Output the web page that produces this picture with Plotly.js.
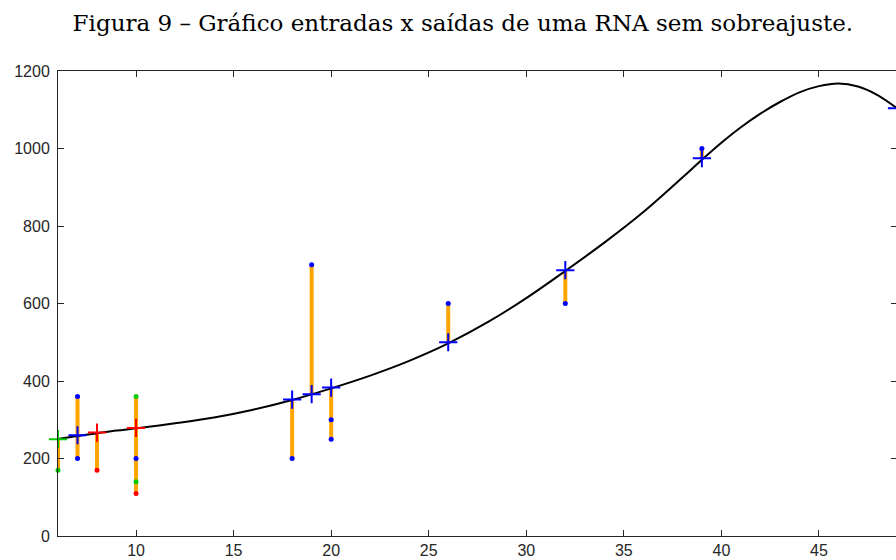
<!DOCTYPE html>
<html>
<head>
<meta charset="utf-8">
<script src="https://cdn.plot.ly/plotly-3.0.1.min.js"></script>
<style>html,body{margin:0;padding:0;overflow:hidden;background:#fff;}#chart{width:896px;height:560px;}</style>
</head>
<body>
<div id="chart"></div>
<script>
// Fitted network output (curve)
const curveX = [6, 7, 8, 9, 10, 12, 14, 16, 18, 20, 22, 24, 26, 28, 30, 32, 34, 36, 38, 39, 40, 41, 42, 43, 44, 45, 46, 47, 48, 49];
const curveY = [250, 258, 265, 272, 278, 291, 306, 326, 351, 381, 414, 452, 497, 551, 614, 684, 757, 836, 925, 971, 1015, 1055, 1090, 1120, 1145, 1161, 1168, 1160, 1138, 1104];

// Training set (blue)
const trainX = [7, 7, 10, 18, 19, 20, 20, 26, 32, 39];
const trainTarget = [360, 200, 200, 200, 700, 300, 250, 600, 600, 1000];
const trainPredX = [7, 18, 19, 20, 26, 32, 39, 49];
const trainPred = [260, 352, 366, 383, 500, 686, 975, 1104];

// Validation set (green)
const valX = [6, 10, 10];
const valTarget = [170, 360, 140];
const valPredX = [6, 10];
const valPred = [250, 279];

// Test set (red)
const testX = [8, 10];
const testTarget = [170, 110];
const testPredX = [8, 10];
const testPred = [267, 279];

const xTicks = [10, 15, 20, 25, 30, 35, 40, 45];
const yTicks = [0, 200, 400, 600, 800, 1000, 1200];

// Error bars: span from lowest to highest value at each input
const spans = {};
function addPts(xs, ys) {
  xs.forEach((x, i) => {
    const y = ys[i];
    if (!spans[x]) spans[x] = [y, y];
    spans[x][0] = Math.min(spans[x][0], y);
    spans[x][1] = Math.max(spans[x][1], y);
  });
}
addPts(trainX, trainTarget); addPts(trainPredX, trainPred);
addPts(valX, valTarget); addPts(valPredX, valPred);
addPts(testX, testTarget); addPts(testPredX, testPred);
const barX = [], barY = [];
Object.keys(spans).forEach(k => {
  const x = Number(k);
  barX.push(x, x, null);
  barY.push(spans[k][0], spans[k][1], null);
});

const blue = '#0000FF', green = '#00CC00', red = '#FF0000';
const dot = c => ({ color: c, size: 5, symbol: 'circle', line: { width: 0 } });
const cross = c => ({ color: c, size: 13, symbol: 'cross-thin', line: { color: c, width: 2 } });

const traces = [
  { x: barX, y: barY, mode: 'lines', line: { color: '#FFA500', width: 4 }, hoverinfo: 'skip' },
  { x: curveX, y: curveY, mode: 'lines', line: { color: '#000000', width: 2, shape: 'spline', smoothing: 1 } },
  { x: trainX, y: trainTarget, mode: 'markers', marker: dot(blue), cliponaxis: false },
  { x: trainPredX, y: trainPred, mode: 'markers', marker: cross(blue), cliponaxis: false },
  { x: valX, y: valTarget, mode: 'markers', marker: dot(green), cliponaxis: false },
  { x: valPredX, y: valPred, mode: 'markers', marker: cross(green), cliponaxis: false },
  { x: testX, y: testTarget, mode: 'markers', marker: dot(red), cliponaxis: false },
  { x: testPredX, y: testPred, mode: 'markers', marker: cross(red), cliponaxis: false }
];

const axisCommon = {
  showgrid: false, zeroline: false,
  showline: true, linecolor: '#262626', linewidth: 1,
  mirror: 'ticks', ticks: 'inside', ticklen: 6, tickwidth: 1, tickcolor: '#262626',
  tickfont: { family: 'Liberation Sans, Arial, sans-serif', size: 16, color: '#262626' }
};

const layout = {
  width: 897, height: 560,
  margin: { l: 58, r: 0, t: 71, b: 24 },
  paper_bgcolor: '#ffffff', plot_bgcolor: '#ffffff',
  showlegend: false,
  title: {
    text: 'Figura 9 – Gráfico entradas x saídas de uma RNA sem sobreajuste.',
    font: { family: 'DejaVu Serif, serif', size: 23, color: '#000000' },
    xref: 'container', x: 0.516, xanchor: 'center',
    yref: 'container', y: 1 - 23 / 560, yanchor: 'middle'
  },
  xaxis: Object.assign({}, axisCommon, {
    range: [6, 49], tickvals: xTicks, ticktext: xTicks.map(String), ticklabelstandoff: 0
  }),
  yaxis: Object.assign({}, axisCommon, {
    range: [0, 1200], tickvals: yTicks, ticktext: yTicks.map(String), ticklabelstandoff: 4
  })
};

Plotly.newPlot('chart', traces, layout, { staticPlot: true, displayModeBar: false });
</script>
</body>
</html>
